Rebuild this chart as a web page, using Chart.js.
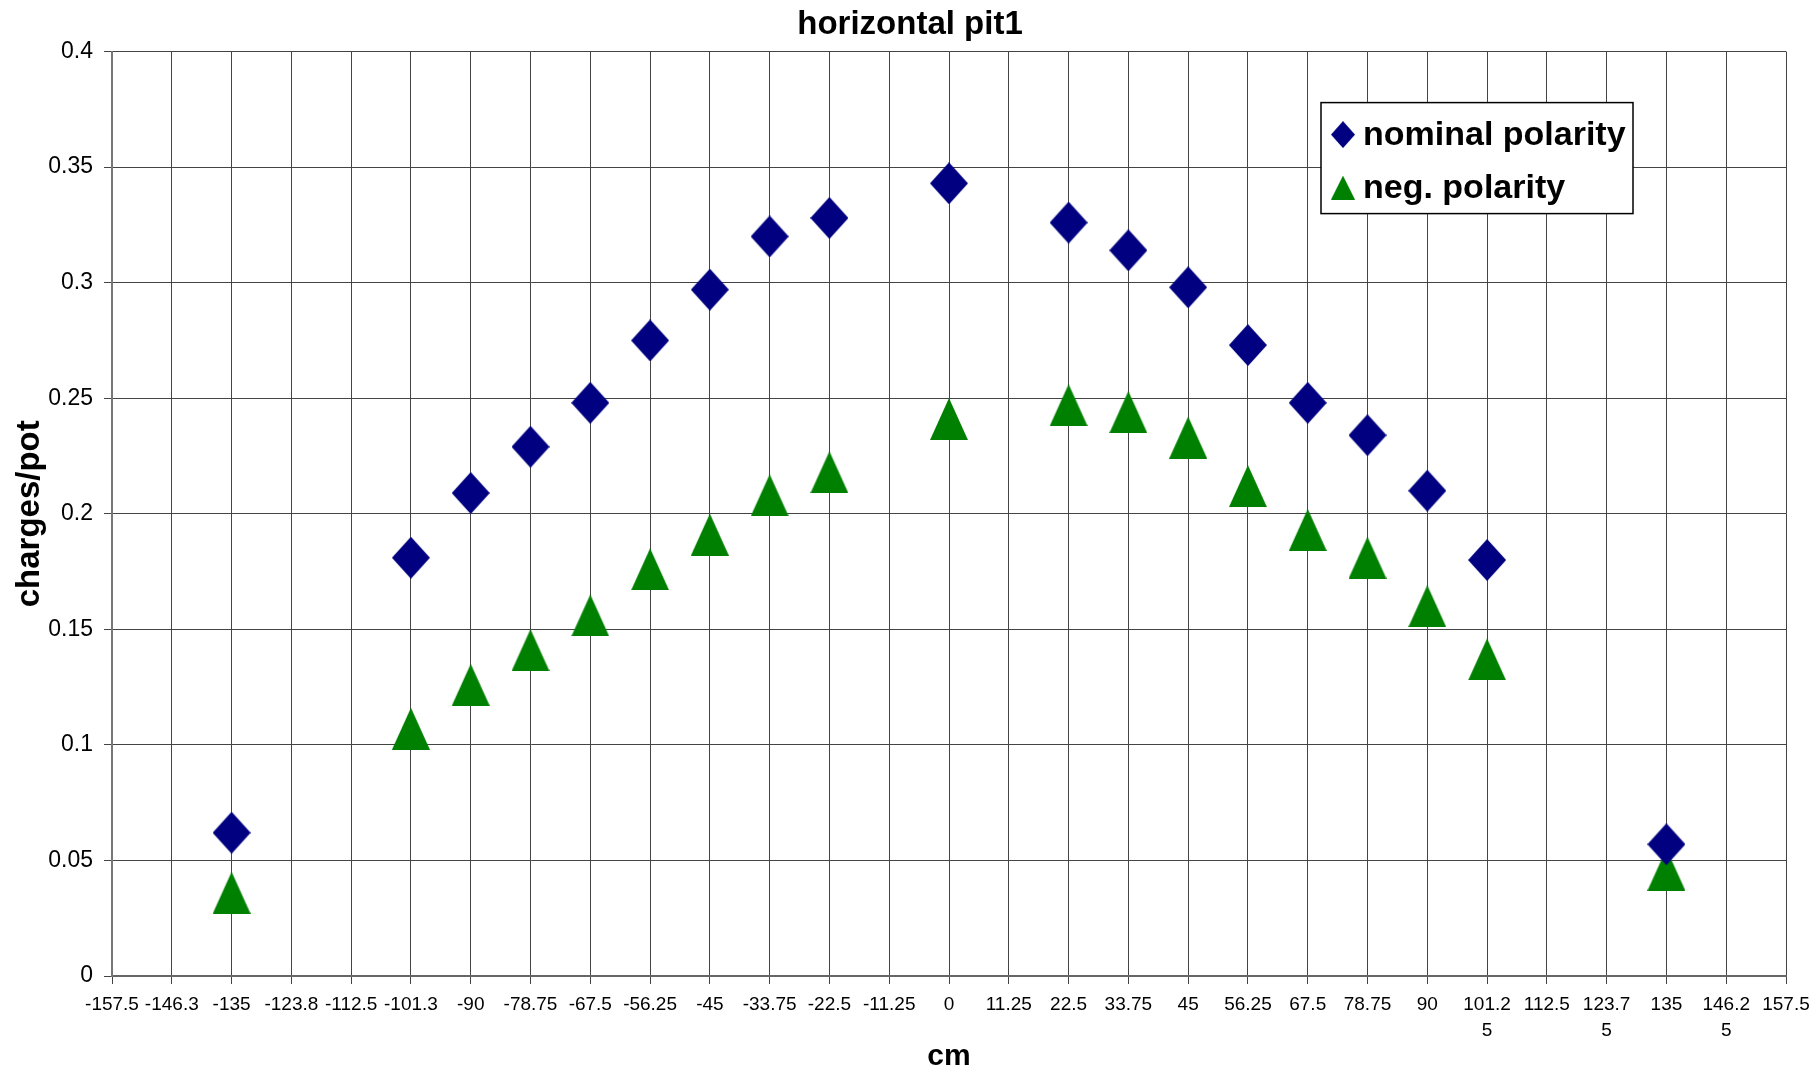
<!DOCTYPE html>
<html>
<head>
<meta charset="utf-8">
<script src="https://cdn.jsdelivr.net/npm/chart.js@4/dist/chart.umd.min.js"></script>
<style>
  html, body { margin: 0; padding: 0; background: #fff; }
  #wrap { width: 1820px; height: 1075px; }
</style>
</head>
<body>
<div id="wrap"><canvas id="myChart" width="1820" height="1075"></canvas></div>
<script>
// positions along the pit (cm)
var xPositions = [-135, -101.25, -90, -78.75, -67.5, -56.25, -45, -33.75, -22.5, 0,
                  22.5, 33.75, 45, 56.25, 67.5, 78.75, 90, 101.25, 135];
var nominalPolarity = [0.062, 0.181, 0.209, 0.229, 0.248, 0.275, 0.297, 0.320, 0.328, 0.343,
                       0.326, 0.314, 0.298, 0.273, 0.248, 0.234, 0.210, 0.180, 0.057];
var negPolarity = [0.036, 0.107, 0.126, 0.141, 0.156, 0.176, 0.191, 0.208, 0.218, 0.241,
                   0.247, 0.244, 0.233, 0.212, 0.193, 0.181, 0.160, 0.137, 0.046];

var xTickLabels = ['-157.5', '-146.3', '-135', '-123.8', '-112.5', '-101.3', '-90', '-78.75',
                   '-67.5', '-56.25', '-45', '-33.75', '-22.5', '-11.25', '0', '11.25', '22.5',
                   '33.75', '45', '56.25', '67.5', '78.75', '90', ['101.2', '5'], '112.5',
                   ['123.7', '5'], '135', ['146.2', '5'], '157.5'];
var yTickLabels = ['0', '0.05', '0.1', '0.15', '0.2', '0.25', '0.3', '0.35', '0.4'];

var FONT = "'Liberation Sans', Arial, sans-serif";
var NAVY = '#000080';
var GREEN = '#008000';

// marker shapes as small canvases (Excel style diamond / triangle)
function makeMarker(shape, w, h, color) {
    var c = document.createElement('canvas');
    c.width = w;
    c.height = h;
    var g = c.getContext('2d');
    g.fillStyle = color;
    g.beginPath();
    if (shape === 'diamond') {
        g.moveTo(w / 2, 0);
        g.lineTo(w, h / 2);
        g.lineTo(w / 2, h);
        g.lineTo(0, h / 2);
    } else {
        g.moveTo(w / 2, 0);
        g.lineTo(w, h);
        g.lineTo(0, h);
    }
    g.closePath();
    g.fill();
    return c;
}

var diamondBig = makeMarker('diamond', 38, 42, NAVY);
var triangleBig = makeMarker('triangle', 38, 42, GREEN);
var diamondSmall = makeMarker('diamond', 24, 27, NAVY);
var triangleSmall = makeMarker('triangle', 24, 24, GREEN);

function toPoints(xs, ys) {
    return xs.map(function (x, i) { return { x: x, y: ys[i] }; });
}

// legend box drawn inside the plot, like the Excel one
var boxLegend = {
    id: 'boxLegend',
    afterDraw: function (chart) {
        var ctx = chart.ctx;
        var area = chart.chartArea;
        var w = 312, h = 111;
        var left = area.right - 153 - w;
        var top = area.top + 51;
        ctx.save();
        ctx.fillStyle = '#fff';
        ctx.fillRect(left, top, w, h);
        ctx.strokeStyle = '#000';
        ctx.lineWidth = 1.5;
        ctx.strokeRect(left, top, w, h);
        var icons = [diamondSmall, triangleSmall];
        var rows = [32, 85];
        ctx.font = 'bold 34px ' + FONT;
        ctx.fillStyle = '#000';
        ctx.textBaseline = 'alphabetic';
        chart.data.datasets.forEach(function (ds, i) {
            var img = icons[i];
            ctx.drawImage(img, left + 22 - img.width / 2, top + rows[i] - img.height / 2);
            ctx.fillText(ds.label, left + 42, top + rows[i] + 10);
        });
        ctx.restore();
    }
};

Chart.defaults.color = '#000';
Chart.defaults.font.family = FONT;

var ctx = document.getElementById('myChart').getContext('2d');
var chart = new Chart(ctx, {
    type: 'scatter',
    data: {
        datasets: [{
                label: 'nominal polarity',
                data: toPoints(xPositions, nominalPolarity),
                pointStyle: diamondBig,
                pointRadius: 20,
                backgroundColor: NAVY,
                borderColor: NAVY,
                showLine: false
            },
            {
                label: 'neg. polarity',
                data: toPoints(xPositions, negPolarity),
                pointStyle: triangleBig,
                pointRadius: 20,
                backgroundColor: GREEN,
                borderColor: GREEN,
                showLine: false
            }
        ]
    },
    options: {
        responsive: false,
        animation: false,
        layout: {
            padding: 0
        },
        plugins: {
            legend: { display: false },
            tooltip: { enabled: false },
            title: {
                display: true,
                text: 'horizontal pit1',
                font: { size: 33, weight: 'bold' },
                padding: { top: 5, bottom: 7 }
            }
        },
        scales: {
            x: {
                type: 'linear',
                min: -157.5,
                max: 157.5,
                afterFit: function (scale) {
                    scale.height = 99;
                    scale.paddingRight = 34; // keep room right of the plot, title stays centred on the page
                },
                ticks: {
                    stepSize: 11.25,
                    autoSkip: false,
                    maxRotation: 0,
                    minRotation: 0,
                    padding: 8,
                    font: { size: 19, family: "'Liberation Sans Narrow', " + FONT, lineHeight: 1.37 },
                    callback: function (value, index) { return xTickLabels[index]; }
                },
                grid: { color: '#444', lineWidth: 1, tickLength: 8 },
                border: { color: '#666', width: 2 },
                title: {
                    display: true,
                    text: 'cm',
                    font: { size: 30, weight: 'bold' },
                    padding: { top: 0, bottom: 0 }
                }
            },
            y: {
                min: 0,
                max: 0.4,
                afterFit: function (scale) { scale.width = 112; },
                ticks: {
                    stepSize: 0.05,
                    padding: 11,
                    font: { size: 23 },
                    callback: function (value, index) { return yTickLabels[index]; }
                },
                grid: { color: '#444', lineWidth: 1, tickLength: 8 },
                border: { color: '#777', width: 2 },
                title: {
                    display: true,
                    text: 'charges/pot',
                    font: { size: 33, weight: 'bold' },
                    padding: { top: 10, bottom: 0 }
                }
            }
        }
    },
    plugins: [boxLegend]
});
</script>
</body>
</html>
